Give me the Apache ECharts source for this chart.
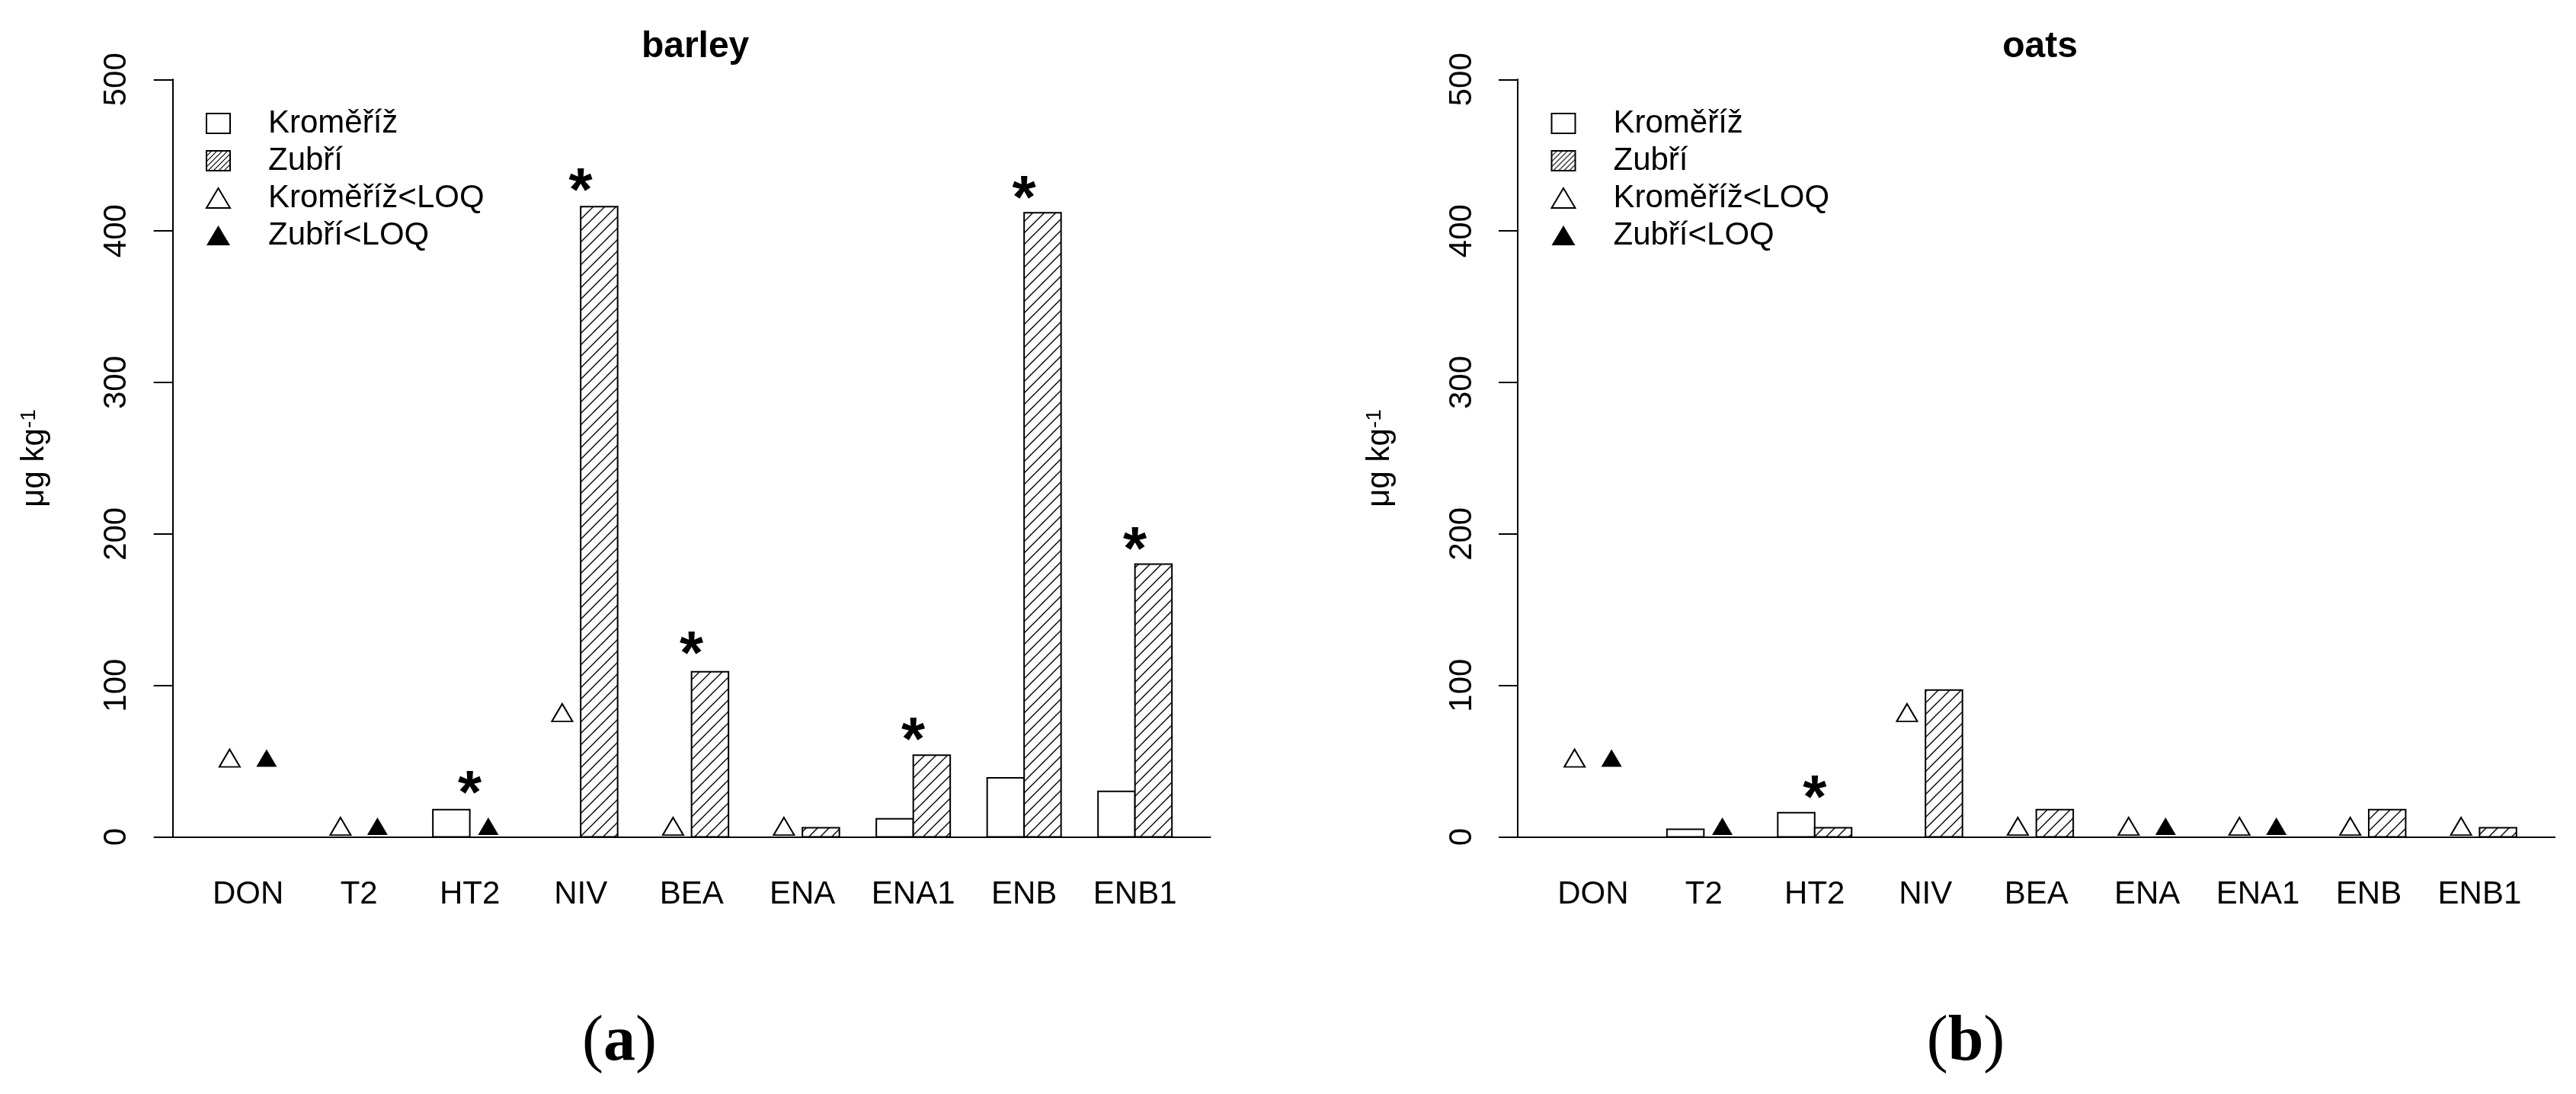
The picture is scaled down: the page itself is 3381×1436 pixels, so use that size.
<!DOCTYPE html>
<html><head><meta charset="utf-8">
<script src="https://cdn.jsdelivr.net/npm/echarts@6/dist/echarts.min.js"></script>
<style>html,body{margin:0;padding:0;background:#fff}#c{width:3381px;height:1436px}</style>
</head><body><div id="c"></div>
<script>
// ---- data (µg/kg) ----
const categories = ['DON','T2','HT2','NIV','BEA','ENA','ENA1','ENB','ENB1'];
const yTicks = [0,100,200,300,400,500];
const seriesNames = ['Kroměříž','Zubří','Kroměříž<LOQ','Zubří<LOQ'];
const panelTitles = ['barley','oats'];
const panelTags = ['a','b'];

const barleyKromeriz    = [null,null,18,null,null,null,12,39,30];
const barleyZubri       = [null,null,null,416,109,6,54,412,180];
const barleyKromerizLOQ = [50,5,null,80,5,5,null,null,null];
const barleyZubriLOQ    = [50,5,5,null,null,null,null,null,null];
const barleyStars       = [null,null,37,435,129,null,72,430,198];

const oatsKromeriz      = [null,5,16,null,null,null,null,null,null];
const oatsZubri         = [null,null,6,97,18,null,null,18,6];
const oatsKromerizLOQ   = [50,null,null,80,5,5,5,5,5];
const oatsZubriLOQ      = [50,5,null,null,null,5,5,null,null];
const oatsStars         = [null,null,34,null,null,null,null,null,null];

// ---- helpers ----
const FONT = '"Liberation Sans", Arial, sans-serif';
const SERIF = '"Liberation Serif", "Times New Roman", serif';
// barplot units: each group = 2 bars of width 1 + 1 space; group centre at 2 + 3*i
const groupCentre = i => 2 + 3 * i;

function hatch(period, lw) {
  const c = document.createElement('canvas');
  c.width = c.height = period;
  const g = c.getContext('2d');
  g.fillStyle = '#fff'; g.fillRect(0, 0, period, period);
  g.strokeStyle = '#000'; g.lineWidth = lw;
  g.beginPath();
  g.moveTo(-1, period + 1); g.lineTo(period + 1, -1);
  g.moveTo(-period / 2 - 1, period / 2 + 1); g.lineTo(period / 2 + 1, -period / 2 - 1);
  g.moveTo(period / 2 - 1, period * 1.5 + 1); g.lineTo(period * 1.5 + 1, period / 2 - 1);
  g.stroke();
  return c;
}
const barHatch = { image: hatch(15, 1.4), repeat: 'repeat' };
const legendHatch = { image: hatch(7, 1.2), repeat: 'repeat' };

const pts = (vals, dx) => vals.map((v, i) => v == null ? null : [groupCentre(i) + dx, v]).filter(Boolean);

function barSeries(name, vals, side, fill, gi) {
  return {
    type: 'custom', name, xAxisIndex: gi, yAxisIndex: gi, silent: true,
    itemStyle: { color: fill, borderColor: '#000', borderWidth: 2 },
    data: pts(vals, 0),
    renderItem: (params, api) => {
      const c = api.value(0), v = api.value(1);
      const a = api.coord([c + side, v]);
      const b = api.coord([c + side + 1, 0]);
      return {
        type: 'rect',
        shape: { x: a[0], y: a[1], width: b[0] - a[0], height: b[1] - a[1] },
        style: { fill: fill, stroke: '#000', lineWidth: 2 }
      };
    }
  };
}
function loqSeries(name, vals, dx, filled, gi) {
  return {
    type: 'scatter', name, xAxisIndex: gi, yAxisIndex: gi, silent: true,
    symbol: 'triangle', symbolSize: [27, 23], symbolOffset: [0, -4],
    itemStyle: { color: filled ? '#000' : '#fff', borderColor: '#000', borderWidth: filled ? 0 : 2, opacity: 1 },
    data: pts(vals, dx)
  };
}
function starSeries(vals, gi) {
  return {
    type: 'custom', name: 'sig', xAxisIndex: gi, yAxisIndex: gi, silent: true,
    data: pts(vals, 0),
    renderItem: (params, api) => {
      const p = api.coord([api.value(0), api.value(1)]);
      return {
        type: 'text', x: p[0], y: p[1] + 20,
        style: { text: '*', fill: '#000', font: 'bold 80px ' + FONT,
                 textAlign: 'center', textVerticalAlign: 'middle', align: 'center', verticalAlign: 'middle' }
      };
    }
  };
}

const grids = [
  { left: 226.7, top: 104.3, width: 1361.9, height: 994.2 },
  { left: 1992, top: 104.3, width: 1361.3, height: 994.2 }
];
const titleX = [907.6, 2672.6];
const tagX = [808, 2575];
const legendX = [265, 2030.5];

const xAxes = grids.map((g, gi) => ({
  gridIndex: gi, type: 'value', min: -0.04, max: 28.04,
  axisLine: { show: true, onZero: false, lineStyle: { color: '#000', width: 2 } },
  axisTick: { show: false }, splitLine: { show: false },
  axisLabel: {
    customValues: categories.map((c, i) => groupCentre(i)),
    formatter: v => categories[Math.round((v - 2) / 3)] || '',
    fontSize: 42, fontFamily: FONT, color: '#000', margin: 55
  }
}));
const yAxes = grids.map((g, gi) => ({
  gridIndex: gi, type: 'value', min: yTicks[0], max: yTicks[yTicks.length - 1], interval: yTicks[1] - yTicks[0],
  axisLine: { show: true, onZero: false, lineStyle: { color: '#000', width: 2 } },
  axisTick: { show: true, length: 25, lineStyle: { color: '#000', width: 2 } },
  splitLine: { show: false },
  axisLabel: { rotate: 90, margin: 52, fontSize: 42, fontFamily: FONT, color: '#000' },
  name: '{a|μg kg}{s|-1}', nameLocation: 'middle', nameRotate: 90, nameGap: 160,
  nameTextStyle: {
    rich: {
      a: { fontSize: 42, fontFamily: FONT, color: '#000' },
      s: { fontSize: 28, fontFamily: FONT, color: '#000', verticalAlign: 'top' }
    }
  }
}));

const legendData = [
  { name: seriesNames[0], icon: 'rect', itemStyle: { color: '#fff', borderColor: '#000', borderWidth: 2 } },
  { name: seriesNames[1], icon: 'rect', itemStyle: { color: legendHatch, borderColor: '#000', borderWidth: 2 } },
  { name: seriesNames[2], icon: 'triangle', itemStyle: { color: '#fff', borderColor: '#000', borderWidth: 2 } },
  { name: seriesNames[3], icon: 'triangle', itemStyle: { color: '#000', borderColor: '#000', borderWidth: 0 } }
];
const legends = grids.map((g, gi) => ({
  left: legendX[gi], top: 136, orient: 'vertical', selectedMode: false,
  itemWidth: 31, itemHeight: 26, itemGap: 7,
  formatter: n => '{g| }{t|' + n + '}',
  textStyle: {
    rich: {
      g: { width: 45 },
      t: { fontSize: 42, lineHeight: 42, fontFamily: FONT, color: '#000' }
    }
  },
  data: legendData
}));

const titles = [];
panelTitles.forEach((t, gi) => {
  titles.push({ text: t, left: titleX[gi], top: 33, textAlign: 'center',
    textStyle: { fontSize: 48, fontWeight: 'bold', fontFamily: FONT, color: '#000' } });
  titles.push({ text: '{p|(}{b|' + panelTags[gi] + '}{p|)}', left: tagX[gi], top: 1322, textAlign: 'center',
    textStyle: { fontWeight: 'normal', rich: {
      p: { fontSize: 84, fontFamily: SERIF, fontWeight: 'normal', color: '#000' },
      b: { fontSize: 84, fontFamily: SERIF, fontWeight: 'bold', color: '#000' } } } });
});

const panels = [
  [barleyKromeriz, barleyZubri, barleyKromerizLOQ, barleyZubriLOQ, barleyStars],
  [oatsKromeriz, oatsZubri, oatsKromerizLOQ, oatsZubriLOQ, oatsStars]
];
const series = [];
panels.forEach((p, gi) => {
  series.push(barSeries(seriesNames[0], p[0], -1, '#fff', gi));
  series.push(barSeries(seriesNames[1], p[1], 0, barHatch, gi));
  series.push(loqSeries(seriesNames[2], p[2], -0.5, false, gi));
  series.push(loqSeries(seriesNames[3], p[3], 0.5, true, gi));
  series.push(starSeries(p[4], gi));
});

const chart = echarts.init(document.getElementById('c'));
chart.setOption({
  animation: false,
  backgroundColor: '#fff',
  title: titles,
  legend: legends,
  grid: grids,
  xAxis: xAxes,
  yAxis: yAxes,
  series: series
});
</script>
</body></html>
